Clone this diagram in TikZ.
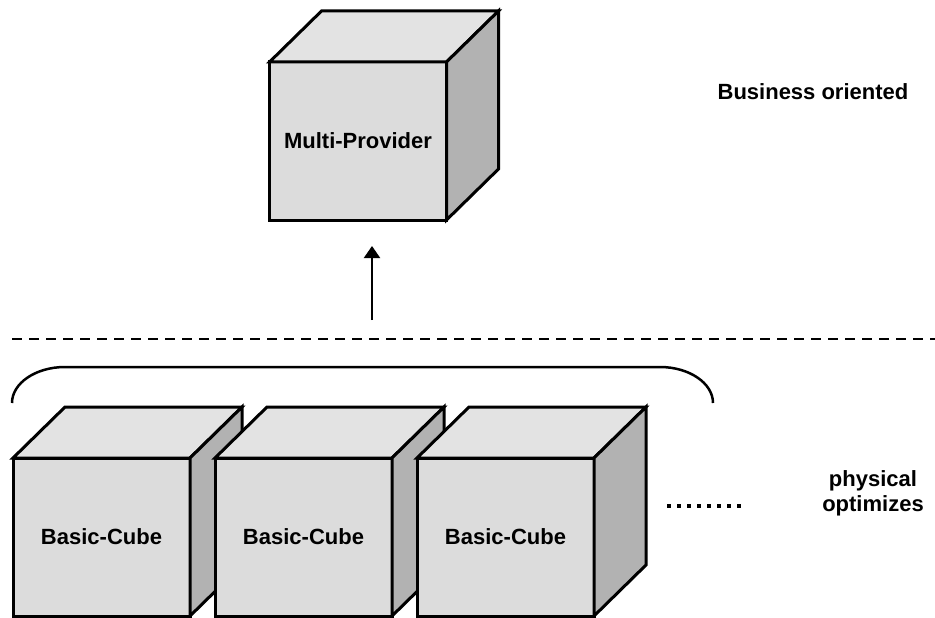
\documentclass[tikz,border=0pt]{standalone}
\usepackage{fontspec}
\setmainfont{Liberation Sans}
\usepackage{tikz}
\usetikzlibrary{arrows.meta, positioning, calc}
\definecolor{frontgray}{HTML}{DCDCDC}
\definecolor{topgray}{HTML}{E3E3E3}
\definecolor{sidegray}{HTML}{B2B2B2}
\tikzset{
  cubefront/.style={draw, line width=3pt, line join=miter, fill=frontgray,
    minimum width=177pt, minimum height=158pt, outer sep=0pt, inner sep=0pt,
    font=\fontsize{22}{25}\selectfont\bfseries},
  cubeedge/.style={draw, line width=3pt, line join=miter},
  label/.style={font=\fontsize{22}{25}\selectfont\bfseries, align=center}
}
% front face, then top and side of a cube
\newcommand{\drawcube}[4]{%
  \node[cubefront] (#1) at (#2,#3) {#4};
  \draw[cubeedge, fill=topgray] (#1.north west) -- ++(52,-51) -- ++(177,0)
    -- (#1.north east) -- cycle;
  \draw[cubeedge, fill=sidegray] (#1.north east) -- ++(52,-51) -- ++(0,158)
    -- (#1.south east) -- cycle;
}
\begin{document}
\begin{tikzpicture}[x=1pt, y=-1pt]
  \useasboundingbox (0,0) rectangle (935,618);
  % Multi-Provider on top
  \drawcube{mp}{358}{141}{Multi-Provider}
  \node[label] (business) at (813,92) {Business oriented};
  % Arrow up to the Multi-Provider
  \coordinate (arrowfoot) at (372,320);
  \coordinate (arrowtip) at (372,246);
  \draw[-{Triangle[width=16pt,length=12pt]}, line width=2pt] (arrowfoot) -- (arrowtip);
  % Separating line
  \coordinate (sepleft) at (12,339);
  \coordinate (sepright) at (935,339);
  \draw[line width=2pt, dash pattern=on 10pt off 7pt] (sepleft) -- (sepright);
  % Bracket over the basic cubes
  \coordinate (brleft) at (12,403);
  \coordinate (brright) at (713,403);
  \draw[line width=2.5pt] (brleft) .. controls (12,383) and (36,367) .. (65,367)
    -- (660,367) .. controls (689,367) and (713,383) .. (brright);
  % Basic cubes
  \foreach \i/\x in {1/101.5, 2/303.5, 3/505.5}
    \drawcube{bc\i}{\x}{537}{Basic-Cube}
  % More cubes follow
  \coordinate (dotsleft) at (667,506);
  \coordinate (dotsright) at (741,506);
  \draw[line width=4pt, dash pattern=on 4pt off 6pt] (dotsleft) -- (dotsright);
  \node[label] (physical) at (873,493) {physical\\optimizes};
\end{tikzpicture}
\end{document}
